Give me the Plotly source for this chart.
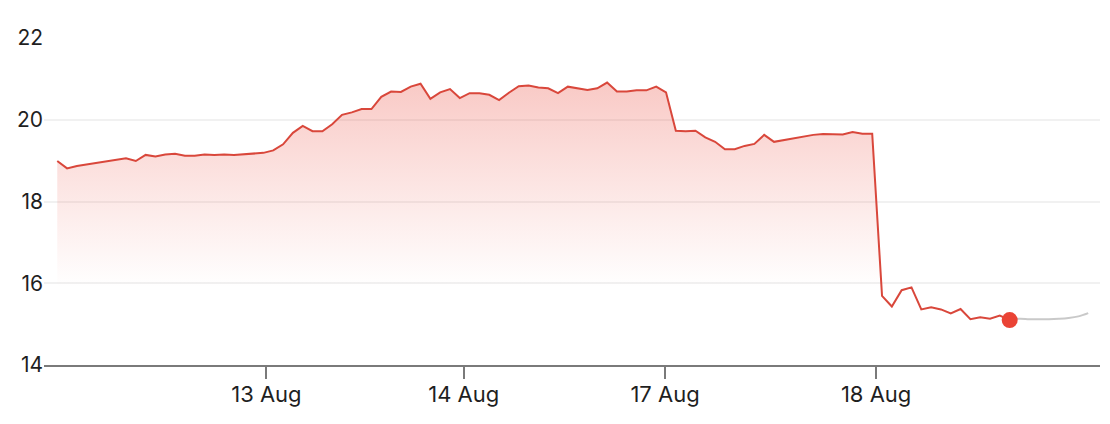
import plotly.graph_objects as go

# price series (regular intraday steps)
price = [18.99, 18.81, 18.87, 18.91, 18.95, 18.98, 19.02, 19.06, 18.99, 19.14,
         19.10, 19.15, 19.17, 19.12, 19.12, 19.15, 19.14, 19.15, 19.14, 19.16,
         19.17, 19.19, 19.25, 19.40, 19.68, 19.85, 19.72, 19.72, 19.89, 20.12,
         20.18, 20.26, 20.26, 20.56, 20.69, 20.68, 20.81, 20.88, 20.51, 20.67,
         20.75, 20.53, 20.65, 20.65, 20.61, 20.48, 20.66, 20.82, 20.84, 20.79,
         20.77, 20.65, 20.81, 20.77, 20.73, 20.77, 20.91, 20.69, 20.69, 20.72,
         20.72, 20.81, 20.67, 19.73, 19.72, 19.73, 19.57, 19.46, 19.28, 19.28,
         19.36, 19.41, 19.63, 19.46, 19.50, 19.54, 19.59, 19.63, 19.65, 19.65,
         19.64, 19.70, 19.66, 19.66, 15.69, 15.43, 15.83, 15.90, 15.36, 15.41,
         15.36, 15.26, 15.37, 15.12, 15.17, 15.13, 15.21, 15.10]
# continuation (grey) after the latest point
extended = [15.10, 15.13, 15.12, 15.12, 15.12, 15.13, 15.15, 15.19, 15.27]

tick_pos = [21.3, 41.4, 61.9, 83.4]
tick_text = ["13 Aug", "14 Aug", "17 Aug", "18 Aug"]
y_ticks = [14, 16, 18, 20, 22]

x_main = list(range(len(price)))
x_ext = list(range(len(price) - 1, len(price) - 1 + len(extended)))

fig = go.Figure()
fig.add_trace(go.Scatter(
    x=x_main, y=price, mode="lines",
    line=dict(color="#d9473b", width=2),
    fill="tozeroy",
    fillgradient=dict(
        type="vertical", start=15.9, stop=21.0,
        colorscale=[[0, "rgba(234,67,53,0)"], [0.25, "rgba(234,67,53,0.07)"],
                    [0.6, "rgba(234,67,53,0.17)"], [1, "rgba(234,67,53,0.29)"]],
    ),
    hoverinfo="skip", showlegend=False,
))
fig.add_trace(go.Scatter(
    x=x_ext, y=extended, mode="lines",
    line=dict(color="#c9c9c9", width=2, shape="spline"),
    hoverinfo="skip", showlegend=False,
))
fig.add_trace(go.Scatter(
    x=[x_main[-1]], y=[price[-1]], mode="markers",
    marker=dict(color="#ea4335", size=16),
    hoverinfo="skip", showlegend=False,
))

fig.update_layout(
    width=1102, height=416,
    margin=dict(l=36, r=10, t=30, b=59),
    paper_bgcolor="white", plot_bgcolor="white",
    font=dict(family="Inter, Roboto, sans-serif", size=21, color="#202124"),
    xaxis=dict(
        range=[-1.35, 106.2], tickmode="array", tickvals=tick_pos, ticktext=tick_text,
        showgrid=False, zeroline=False,
        showline=True, linecolor="#7a7a7a", linewidth=2,
        ticks="outside", ticklen=12, tickwidth=2, tickcolor="#7a7a7a",
        ticklabelstandoff=-3,
        tickfont=dict(size=22, color="#1f1f1f"),
    ),
    yaxis=dict(
        range=[14, 22], tickmode="array", tickvals=y_ticks,
        showgrid=True, gridcolor="#f1f1f1", gridwidth=2,
        zeroline=False, showline=False, ticks="",
        tickfont=dict(size=21, color="#1f1f1f"),
    ),
    hovermode=False,
)

fig.write_html("out.html", config={"displayModeBar": False})
